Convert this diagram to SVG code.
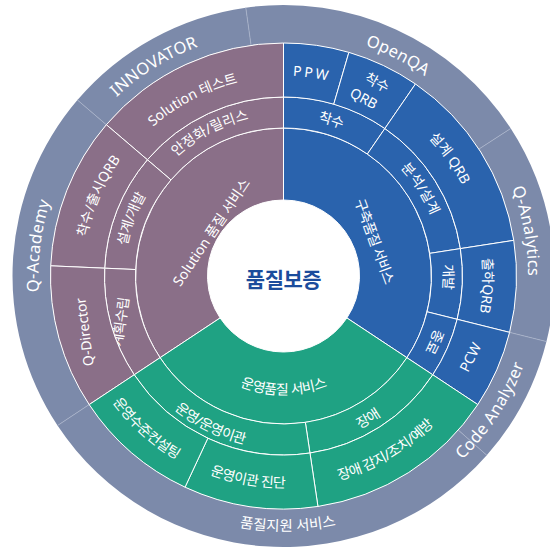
<svg xmlns="http://www.w3.org/2000/svg" xmlns:xlink="http://www.w3.org/1999/xlink" width="550" height="549" viewBox="0 0 550 549">
<style>
.p{fill:#8a6f88;stroke:#fff;stroke-width:1}
.b{fill:#2a63ad;stroke:#fff;stroke-width:1}
.g{fill:#1fa283;stroke:#fff;stroke-width:1}
.o{fill:#7c8aaa;stroke:none}
.t{fill:#fff;font-family:"Noto Sans","Noto Sans CJK KR",sans-serif;font-size:14px;letter-spacing:-0.6px}
.l{font-size:14px;letter-spacing:0}
.c{text-anchor:middle;dominant-baseline:central}
.ot{fill:#fff;font-family:"Noto Sans","Noto Sans CJK KR",sans-serif;font-size:16.5px;letter-spacing:0.3px}
.div{stroke:#aab4ca;stroke-width:0.8;fill:none}
</style>
<defs>
<path id="a-innovator" d="M 51.18 199.16 A 244.7 244.7 0 0 1 318.83 33.87"/>
<path id="a-openqa" d="M 230.13 37.20 A 244.7 244.7 0 0 1 509.41 181.96"/>
<path id="a-qanalytics" d="M 439.15 87.19 A 244.7 244.7 0 0 1 496.49 396.49"/>
<path id="a-qacademy" d="M 78.02 409.43 A 245 245 0 0 1 116.41 96.81"/>
<path id="a-soltest" d="M 94.70 215.38 A 198.3 198.3 0 0 1 344.12 87.20"/>
<path id="a-ppw" d="M 162.96 116.04 A 200.3 200.3 0 0 1 443.46 155.46"/>
<path id="a-qrb1" d="M 97.26 349.73 A 200.3 200.3 0 0 1 209.77 89.76"/>
<path id="a-dqrb" d="M 317.25 78.56 A 200.3 200.3 0 0 1 480.94 309.75"/>
<path id="a-sqrb" d="M 431.05 141.74 A 199.5 199.5 0 0 1 417.76 423.55"/>
<path id="a-stab" d="M 127.19 240.49 A 160.3 160.3 0 0 1 345.62 128.22"/>
<path id="a-dd" d="M 144.84 354.44 A 159.3 159.3 0 0 1 230.33 125.84"/>
<path id="a-start" d="M 197.29 143.23 A 158.3 158.3 0 0 1 429.22 214.15"/>
<path id="a-anal" d="M 304.29 118.07 A 159.3 159.3 0 0 1 435.42 323.90"/>
<path id="a-dev" d="M 386.86 154.12 A 159.8 159.8 0 0 1 385.58 398.95"/>
<path id="a-end" d="M 426.68 204.61 A 160 160 0 0 1 328.94 429.41"/>
<path id="a-code" d="M 358.44 521.10 A 256.3 256.3 0 0 0 537.88 244.76"/>
<path id="a-support" d="M 123.03 474.16 A 255 255 0 0 0 450.81 468.45"/>
<path id="a-detect" d="M 229.43 480.67 A 211.7 211.7 0 0 0 488.17 330.07"/>
<path id="a-diag" d="M 110.08 397.43 A 211.7 211.7 0 0 0 404.93 449.42"/>
<path id="a-consult" d="M 71.30 287.11 A 212.5 212.5 0 0 0 294.61 488.20"/>
<path id="a-fault" d="M 226.79 437.00 A 170.7 170.7 0 0 0 451.91 303.88"/>
<path id="a-ops" d="M 115.92 316.85 A 172.5 172.5 0 0 0 352.83 433.96"/>
<path id="a-opq" d="M 180.70 335.35 A 118.7 118.7 0 0 0 386.30 335.35"/>
</defs>
<rect width="550" height="549" fill="#fff"/>

<!-- outer ring -->
<g id="innovator"><path class="o" d="M 77.43 100.01 A 271 271 0 0 1 245.78 7.63 L 251.07 45.26 A 233 233 0 0 0 106.33 124.69 Z"/>
<text class="ot"><textPath xlink:href="#a-innovator" href="#a-innovator" startOffset="50%" text-anchor="middle">INNOVATOR</textPath></text></g>
<g id="openqa"><path class="o" d="M 245.78 7.63 A 271 271 0 0 1 510.79 128.41 L 478.92 149.11 A 233 233 0 0 0 251.07 45.26 Z"/>
<text class="ot"><textPath xlink:href="#a-openqa" href="#a-openqa" startOffset="50%" text-anchor="middle">OpenQA</textPath></text></g>
<g id="q-analytics"><path class="o" d="M 510.79 128.41 A 271 271 0 0 1 546.45 341.55 L 509.58 332.36 A 233 233 0 0 0 478.92 149.11 Z"/>
<text class="ot"><textPath xlink:href="#a-qanalytics" href="#a-qanalytics" startOffset="50%" text-anchor="middle">Q-Analytics</textPath></text></g>
<g id="support"><path class="o" d="M 486.78 455.21 A 271 271 0 0 1 57.51 425.56 L 89.20 404.59 A 233 233 0 0 0 458.27 430.08 Z"/>
<text class="ot" style="font-size:14.5px;letter-spacing:0"><textPath xlink:href="#a-support" href="#a-support" startOffset="50%" text-anchor="middle">품질지원 서비스</textPath></text></g>
<g id="q-academy"><path class="o" d="M 57.51 425.56 A 271 271 0 0 1 77.43 100.01 L 106.33 124.69 A 233 233 0 0 0 89.20 404.59 Z"/>
<text class="ot"><textPath xlink:href="#a-qacademy" href="#a-qacademy" startOffset="50%" text-anchor="middle">Q-Academy</textPath></text></g>
<g id="code-analyzer"><path class="o" d="M 546.45 341.55 A 271 271 0 0 1 486.78 455.21 L 458.27 430.08 A 233 233 0 0 0 509.58 332.36 Z"/>
<text class="ot"><textPath xlink:href="#a-code" href="#a-code" startOffset="50%" text-anchor="middle">Code Analyzer</textPath></text></g>

<g id="dividers">
<line class="div" x1="106.33" y1="124.69" x2="77.43" y2="100.01"/>
<line class="div" x1="251.07" y1="45.26" x2="245.78" y2="7.63"/>
<line class="div" x1="478.92" y1="149.11" x2="510.79" y2="128.41"/>
<line class="div" x1="509.58" y1="332.36" x2="546.45" y2="341.55"/>
<line class="div" x1="458.27" y1="430.08" x2="486.78" y2="455.21"/>
<line class="div" x1="89.20" y1="404.59" x2="57.51" y2="425.56"/>
</g>

<!-- ring 1 -->
<g id="solution-quality"><path class="p" d="M 160.08 357.68 A 148 148 0 0 1 283.5 128 L 283.5 200 A 76 76 0 0 0 220.12 317.94 Z"/>
<text class="t l c" transform="translate(211 232) rotate(-56)">Solution 품질 서비스</text></g>
<g id="build-quality"><path class="b" d="M 283.5 128 A 148 148 0 0 1 406.92 357.68 L 346.88 317.94 A 76 76 0 0 0 283.5 200 Z"/>
<text class="t c" transform="translate(375 241) rotate(70)">구축품질 서비스</text></g>
<g id="ops-quality"><path class="g" d="M 406.92 357.68 A 148 148 0 0 1 160.08 357.68 L 220.12 317.94 A 76 76 0 0 0 346.88 317.94 Z"/>
<text class="t"><textPath xlink:href="#a-opq" href="#a-opq" startOffset="50%" text-anchor="middle">운영품질 서비스</textPath></text></g>

<!-- ring 2 -->
<g id="stabilize"><path class="p" d="M 147.39 159.76 A 179 179 0 0 1 283.5 97 L 283.5 128 A 148 148 0 0 0 170.96 179.89 Z"/>
<text class="t l"><textPath xlink:href="#a-stab" href="#a-stab" startOffset="50%" text-anchor="middle">안정화/릴리스</textPath></text></g>
<g id="design-dev"><path class="p" d="M 104.68 268.20 A 179 179 0 0 1 147.39 159.76 L 170.96 179.89 A 148 148 0 0 0 135.65 269.55 Z"/>
<text class="t"><textPath xlink:href="#a-dd" href="#a-dd" startOffset="50%" text-anchor="middle">설계/개발</textPath></text></g>
<g id="planning"><path class="p" d="M 134.23 374.79 A 179 179 0 0 1 104.68 268.20 L 135.65 269.55 A 148 148 0 0 0 160.08 357.68 Z"/>
<text class="t c" transform="translate(120 322) rotate(-82)">계획수립</text></g>
<g id="start"><path class="b" d="M 283.5 97 A 179 179 0 0 1 384.89 128.49 L 367.33 154.03 A 148 148 0 0 0 283.5 128 Z"/>
<text class="t"><textPath xlink:href="#a-start" href="#a-start" startOffset="50%" text-anchor="middle">착수</textPath></text></g>
<g id="analysis"><path class="b" d="M 384.89 128.49 A 179 179 0 0 1 460.39 248.61 L 429.75 253.36 A 148 148 0 0 0 367.33 154.03 Z"/>
<text class="t l"><textPath xlink:href="#a-anal" href="#a-anal" startOffset="50%" text-anchor="middle">분석/설계</textPath></text></g>
<g id="develop"><path class="b" d="M 460.39 248.61 A 179 179 0 0 1 457.18 319.30 L 427.10 311.80 A 148 148 0 0 0 429.75 253.36 Z"/>
<text class="t"><textPath xlink:href="#a-dev" href="#a-dev" startOffset="50%" text-anchor="middle">개발</textPath></text></g>
<g id="finish"><path class="b" d="M 457.18 319.30 A 179 179 0 0 1 432.77 374.79 L 406.92 357.68 A 148 148 0 0 0 427.10 311.80 Z"/>
<text class="t"><textPath xlink:href="#a-end" href="#a-end" startOffset="50%" text-anchor="middle">종료</textPath></text></g>
<g id="fault"><path class="g" d="M 432.77 374.79 A 179 179 0 0 1 309.96 453.03 L 305.37 422.37 A 148 148 0 0 0 406.92 357.68 Z"/>
<text class="t"><textPath xlink:href="#a-fault" href="#a-fault" startOffset="50%" text-anchor="middle">장애</textPath></text></g>
<g id="operation"><path class="g" d="M 309.96 453.03 A 179 179 0 0 1 134.23 374.79 L 160.08 357.68 A 148 148 0 0 0 305.37 422.37 Z"/>
<text class="t"><textPath xlink:href="#a-ops" href="#a-ops" startOffset="50%" text-anchor="middle">운영/운영이관</textPath></text></g>

<!-- ring 3 -->
<g id="solution-test"><path class="p" d="M 106.33 124.69 A 233 233 0 0 1 283.5 43 L 283.5 97 A 179 179 0 0 0 147.39 159.76 Z"/>
<text class="t l"><textPath xlink:href="#a-soltest" href="#a-soltest" startOffset="50%" text-anchor="middle">Solution 테스트</textPath></text></g>
<g id="start-release-qrb"><path class="p" d="M 50.73 265.84 A 233 233 0 0 1 106.33 124.69 L 147.39 159.76 A 179 179 0 0 0 104.68 268.20 Z"/>
<text class="t l"><textPath xlink:href="#a-qrb1" href="#a-qrb1" startOffset="50%" text-anchor="middle">착수/출시QRB</textPath></text></g>
<g id="q-director"><path class="p" d="M 89.20 404.59 A 233 233 0 0 1 50.73 265.84 L 104.68 268.20 A 179 179 0 0 0 134.23 374.79 Z"/>
<text class="t l c" transform="translate(84 332) rotate(-97)">Q-Director</text></g>
<g id="ppw"><path class="b" d="M 283.5 43 A 233 233 0 0 1 348.90 52.37 L 333.75 104.20 A 179 179 0 0 0 283.5 97 Z"/>
<text class="t l" style="letter-spacing:2.5px"><textPath xlink:href="#a-ppw" href="#a-ppw" startOffset="50%" text-anchor="middle">PPW</textPath></text></g>
<g id="start-qrb"><path class="b" d="M 348.90 52.37 A 233 233 0 0 1 415.47 83.98 L 384.89 128.49 A 179 179 0 0 0 333.75 104.20 Z"/>
<text class="t c" transform="translate(377 82) rotate(28)">착수</text>
<text class="t l c" transform="translate(364 98) rotate(28)">QRB</text></g>
<g id="design-qrb"><path class="b" d="M 415.47 83.98 A 233 233 0 0 1 513.75 240.35 L 460.39 248.61 A 179 179 0 0 0 384.89 128.49 Z"/>
<text class="t l"><textPath xlink:href="#a-dqrb" href="#a-dqrb" startOffset="50%" text-anchor="middle">설계 QRB</textPath></text></g>
<g id="ship-qrb"><path class="b" d="M 513.75 240.35 A 233 233 0 0 1 509.58 332.36 L 457.18 319.30 A 179 179 0 0 0 460.39 248.61 Z"/>
<text class="t l"><textPath xlink:href="#a-sqrb" href="#a-sqrb" startOffset="50%" text-anchor="middle">출하QRB</textPath></text></g>
<g id="pcw"><path class="b" d="M 509.58 332.36 A 233 233 0 0 1 477.80 404.59 L 432.77 374.79 A 179 179 0 0 0 457.18 319.30 Z"/>
<text class="t l c" transform="translate(470 357) rotate(-63)">PCW</text></g>
<g id="fault-detect"><path class="g" d="M 477.80 404.59 A 233 233 0 0 1 317.94 506.44 L 309.96 453.03 A 179 179 0 0 0 432.77 374.79 Z"/>
<text class="t"><textPath xlink:href="#a-detect" href="#a-detect" startOffset="50%" text-anchor="middle">장애 감지/조치/예방</textPath></text></g>
<g id="transfer-diag"><path class="g" d="M 317.94 506.44 A 233 233 0 0 1 185.03 487.17 L 207.85 438.23 A 179 179 0 0 0 309.96 453.03 Z"/>
<text class="t"><textPath xlink:href="#a-diag" href="#a-diag" startOffset="50%" text-anchor="middle">운영이관 진단</textPath></text></g>
<g id="ops-consult"><path class="g" d="M 185.03 487.17 A 233 233 0 0 1 89.20 404.59 L 134.23 374.79 A 179 179 0 0 0 207.85 438.23 Z"/>
<text class="t"><textPath xlink:href="#a-consult" href="#a-consult" startOffset="50%" text-anchor="middle">운영수준컨설팅</textPath></text></g>

<g id="center">
<text x="283.5" y="286.5" text-anchor="middle" style="font-family:'Noto Sans CJK KR',sans-serif;font-size:21px;font-weight:bold;fill:#1b4c9c;letter-spacing:-0.5px">품질보증</text>
</g>
</svg>
